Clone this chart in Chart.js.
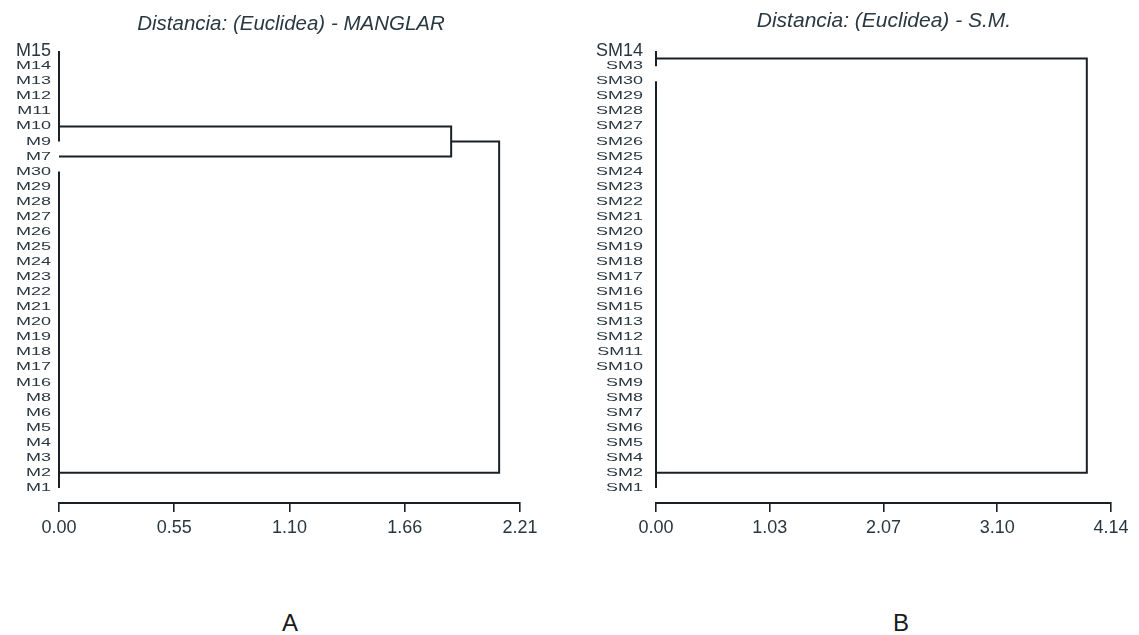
<!DOCTYPE html>
<html>
<head>
<meta charset="utf-8">
<title>Distancia Euclidea - dendrogramas</title>
<script src="https://cdn.jsdelivr.net/npm/chart.js@4.4.1/dist/chart.umd.min.js"></script>
<style>
  html, body { margin: 0; padding: 0; background: #ffffff; }
  #wrap { position: relative; width: 1139px; height: 635px; overflow: hidden; font-family: "Liberation Sans", Arial, sans-serif; }
  canvas { position: absolute; top: 0; }
  .title { position: absolute; font-style: italic; font-size: 20.5px; line-height: 20.5px; color: #2a3842; white-space: nowrap; transform: translateX(-50%); }
  .panel { position: absolute; font-size: 24px; line-height: 24px; color: #1a1a1a; transform: translateX(-50%); }
</style>
</head>
<body>
<div id="wrap">
  <canvas id="cManglar" width="570" height="560" style="left:0px"></canvas>
  <canvas id="cSM" width="569" height="560" style="left:570px"></canvas>
  <div class="title" style="left:291px; top:13px">Distancia: (Euclidea) - MANGLAR</div>
  <div class="title" style="left:884px; top:10px; font-size:21px">Distancia: (Euclidea) - S.M.</div>
  <div class="panel" style="left:290px; top:611px">A</div>
  <div class="panel" style="left:901px; top:611px">B</div>
</div>
<script>
// ---- MANGLAR: leaves from top to bottom ----
const manglarLeaves = ['M15','M14','M13','M12','M11','M10','M9','M7','M30','M29','M28','M27','M26','M25','M24','M23','M22','M21','M20','M19','M18','M17','M16','M8','M6','M5','M4','M3','M2','M1'];
// groups of identical samples (distance 0): first leaf, last leaf, leaf where the branch leaves
const manglarGroupFirst = ['M15','M7','M30'];
const manglarGroupLast  = ['M9','M7','M1'];
const manglarGroupStem  = [5, 7, 28];
// merges: node a, node b, distance (nodes 0..n-1 are groups, then merges in order)
const manglarMergeA = [0, 3];
const manglarMergeB = [1, 2];
const manglarMergeDist = [1.88, 2.11];
const manglarTickValues = [0, 0.5525, 1.105, 1.6575, 2.21];
const manglarTickLabels = ['0.00','0.55','1.10','1.66','2.21'];

// ---- S.M.: leaves from top to bottom ----
const smLeaves = ['SM14','SM3','SM30','SM29','SM28','SM27','SM26','SM25','SM24','SM23','SM22','SM21','SM20','SM19','SM18','SM17','SM16','SM15','SM13','SM12','SM11','SM10','SM9','SM8','SM7','SM6','SM5','SM4','SM2','SM1'];
const smGroupFirst = ['SM14','SM30'];
const smGroupLast  = ['SM3','SM1'];
const smGroupStem  = [0.5, 28];
const smMergeA = [0];
const smMergeB = [1];
const smMergeDist = [3.92];
const smTickValues = [0, 1.035, 2.07, 3.105, 4.14];
const smTickLabels = ['0.00','1.03','2.07','3.10','4.14'];

const FONT = '"Liberation Sans", Arial, sans-serif';
const INK = '#1a2126';
const TEXT = '#283640';

// Build line datasets for a dendrogram from its groups and merges
function dendrogramDatasets(leaves, gFirst, gLast, gStem, mA, mB, mDist) {
  const nodes = [];
  const sets = [];
  const line = pts => ({ data: pts, borderColor: INK, borderWidth: 2, pointRadius: 0,
                         fill: false, tension: 0, clip: false, borderJoinStyle: 'miter' });
  gFirst.forEach((f, i) => {
    const a = leaves.indexOf(f), b = leaves.indexOf(gLast[i]);
    if (b > a) sets.push(line([{ x: 0, y: a }, { x: 0, y: b }]));
    nodes.push({ x: 0, y: gStem[i] });
  });
  mDist.forEach((h, i) => {
    const p = nodes[mA[i]], q = nodes[mB[i]];
    sets.push(line([{ x: p.x, y: p.y }, { x: h, y: p.y }, { x: h, y: q.y }, { x: q.x, y: q.y }]));
    nodes.push({ x: h, y: (p.y + q.y) / 2 });
  });
  return sets;
}

// Leaf names drawn beside the vertical axis; all but the first are squeezed vertically
const leafLabels = {
  id: 'leafLabels',
  afterDraw(chart, args, opts) {
    const { ctx, chartArea, scales } = chart;
    const y = scales.y;
    ctx.save();
    ctx.fillStyle = TEXT;
    ctx.font = '18px ' + FONT;
    ctx.textAlign = 'right';
    ctx.textBaseline = 'middle';
    opts.labels.forEach((lab, i) => {
      ctx.save();
      ctx.translate(chartArea.left - opts.gap, y.getPixelForValue(i));
      ctx.scale(1, i === 0 ? 1 : 0.62);
      ctx.fillText(lab, 0, 0);
      ctx.restore();
    });
    ctx.restore();
  }
};

function makeChart(id, leaves, sets, xMax, tickValues, tickLabels, yWidth, padRight, gap) {
  return new Chart(document.getElementById(id), {
    type: 'line',
    data: { datasets: sets },
    plugins: [leafLabels],
    options: {
      responsive: false,
      animation: false,
      layout: { padding: { left: 0, top: 36, right: padRight, bottom: 17 } },
      plugins: {
        legend: { display: false },
        tooltip: { enabled: false },
        leafLabels: { labels: leaves, gap: gap }
      },
      scales: {
        x: {
          type: 'linear', position: 'bottom', min: 0, max: xMax,
          afterBuildTicks: s => { s.ticks = tickValues.map(v => ({ value: v })); },
          afterFit: s => { s.height = 40; },
          ticks: {
            callback: (v, i) => tickLabels[i],
            font: { family: FONT, size: 18 }, color: TEXT, padding: 5, maxRotation: 0
          },
          grid: { display: true, drawOnChartArea: false, drawTicks: true, tickLength: 9, color: INK, lineWidth: 1.6 },
          border: { display: true, color: INK, width: 2 }
        },
        y: {
          type: 'linear', reverse: true, min: -1, max: 30,
          afterFit: s => { s.width = yWidth; },
          ticks: { display: false },
          grid: { display: false },
          border: { display: false }
        }
      }
    }
  });
}

makeChart('cManglar', manglarLeaves,
  dendrogramDatasets(manglarLeaves, manglarGroupFirst, manglarGroupLast, manglarGroupStem,
                     manglarMergeA, manglarMergeB, manglarMergeDist),
  2.21, manglarTickValues, manglarTickLabels, 59, 50, 8);

makeChart('cSM', smLeaves,
  dendrogramDatasets(smLeaves, smGroupFirst, smGroupLast, smGroupStem,
                     smMergeA, smMergeB, smMergeDist),
  4.14, smTickValues, smTickLabels, 86, 28, 13);
</script>
</body>
</html>
